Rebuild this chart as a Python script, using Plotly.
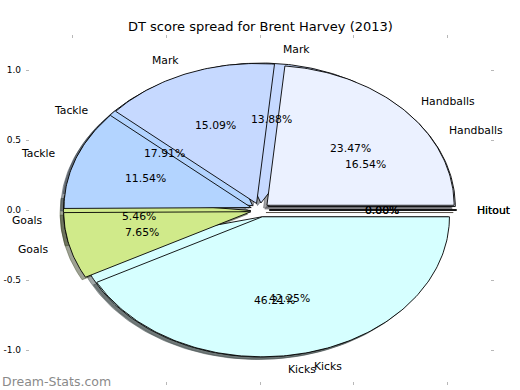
import numpy as np
import plotly.graph_objects as go

# ---------------- data ----------------
categories = ["Handballs", "Mark", "Tackle", "Goals", "Kicks", "Hitout"]
series_a = [16.54, 13.88, 17.91, 5.46, 46.21, 0.00]   # drawn first (underneath)
series_b = [23.47, 15.09, 11.54, 7.65, 42.25, 0.00]   # drawn on top
slice_colors = ["#ebf1ff", "#c6d9ff", "#b3d4ff", "#d0ea8a", "#d6ffff", "#ffe0c0"]
title_text = "DT score spread for Brent Harvey (2013)"
tick_vals = [-1.0, -0.5, 0.0, 0.5, 1.0]
watermark = "Dream-Stats.com"

# ------------- pie geometry (matplotlib-like) -------------
EXPLODE = 0.05
RADIUS = 1.0
LABEL_DIST = 1.1
PCT_DIST = 0.6
SHADOW_OFF = 0.02 * 65 / 72
FONT = "DejaVu Sans"


def hex_rgb(h):
    h = h.lstrip("#")
    return tuple(int(h[i:i + 2], 16) for i in (0, 2, 4))


def build_pie(values):
    total = float(sum(values))
    t1 = 0.0
    out = []
    for lab, v, col in zip(categories, values, slice_colors):
        t2 = t1 + 360.0 * v / total
        mid = np.deg2rad((t1 + t2) / 2)
        cx = EXPLODE * np.cos(mid)
        cy = EXPLODE * np.sin(mid)
        n = max(2, int(abs(t2 - t1) / 1.0) + 2)
        th = np.deg2rad(np.linspace(t1, t2, n))
        xs = np.concatenate([[cx], cx + RADIUS * np.cos(th), [cx]])
        ys = np.concatenate([[cy], cy + RADIUS * np.sin(th), [cy]])
        out.append(dict(
            label=lab, value=v, color=col, xs=xs, ys=ys,
            lx=cx + LABEL_DIST * RADIUS * np.cos(mid),
            ly=cy + LABEL_DIST * RADIUS * np.sin(mid),
            px=cx + PCT_DIST * RADIUS * np.cos(mid),
            py=cy + PCT_DIST * RADIUS * np.sin(mid),
            pct=100.0 * v / total,
        ))
        t1 = t2
    return out


pies = [build_pie(series_a), build_pie(series_b)]

fig = go.Figure()

# shadows (below all wedges)
for pie in pies:
    for w in pie:
        r, g, b = hex_rgb(w["color"])
        sc = f"rgba({0.3*r:.0f},{0.3*g:.0f},{0.3*b:.0f},0.5)"
        fig.add_trace(go.Scatter(
            x=w["xs"] - SHADOW_OFF, y=w["ys"] - SHADOW_OFF, mode="lines",
            fill="toself", fillcolor=sc, line=dict(color=sc, width=0.9),
            hoverinfo="skip", showlegend=False, cliponaxis=False))

# wedges
for pie in pies:
    for w in pie:
        fig.add_trace(go.Scatter(
            x=w["xs"], y=w["ys"], mode="lines", fill="toself",
            fillcolor=w["color"], line=dict(color="black", width=0.9),
            hoverinfo="skip", showlegend=False, cliponaxis=False))

annotations = []
for pie in pies:
    for w in pie:
        annotations.append(dict(
            x=w["lx"], y=w["ly"], xref="x", yref="y", text=w["label"],
            showarrow=False, xanchor="left" if w["lx"] > 0 else "right",
            yanchor="middle", font=dict(family=FONT, size=10.8, color="black")))
        annotations.append(dict(
            x=w["px"], y=w["py"], xref="x", yref="y", text=f"{w['pct']:.2f}%",
            showarrow=False, xanchor="center", yanchor="middle",
            font=dict(family=FONT, size=10.8, color="black")))

annotations.append(dict(
    x=0.5, y=1, xref="paper", yref="paper", yshift=9, text=title_text,
    showarrow=False, xanchor="center", yanchor="middle",
    font=dict(family=FONT, size=13, color="black")))
annotations.append(dict(
    x=0, y=0, xref="paper", yref="paper", xshift=-26, yshift=4, text=watermark,
    showarrow=False, xanchor="left", yanchor="middle",
    font=dict(family=FONT, size=12.5, color="#8a8a8a")))

axis_common = dict(
    range=[-1.25, 1.25], showgrid=False, zeroline=False, showline=False,
    ticks="inside", ticklen=3, tickcolor="#b8b8b8", mirror="ticks",
    tickvals=tick_vals, ticktext=[f"{v:.1f}" for v in tick_vals],
    tickfont=dict(family=FONT, size=9, color="black"), fixedrange=True,
    automargin=False)

fig.update_layout(
    width=520, height=390,
    margin=dict(l=26, r=26, t=35, b=5, autoexpand=False),
    paper_bgcolor="white", plot_bgcolor="white",
    xaxis=dict(axis_common, ticklabelstandoff=7),
    yaxis=dict(axis_common, ticklabelstandoff=4),
    annotations=annotations, showlegend=False,
)

fig.write_html("out.html", config={"displayModeBar": False},
               post_script="document.body.style.margin='0';document.body.style.overflow='hidden';")
